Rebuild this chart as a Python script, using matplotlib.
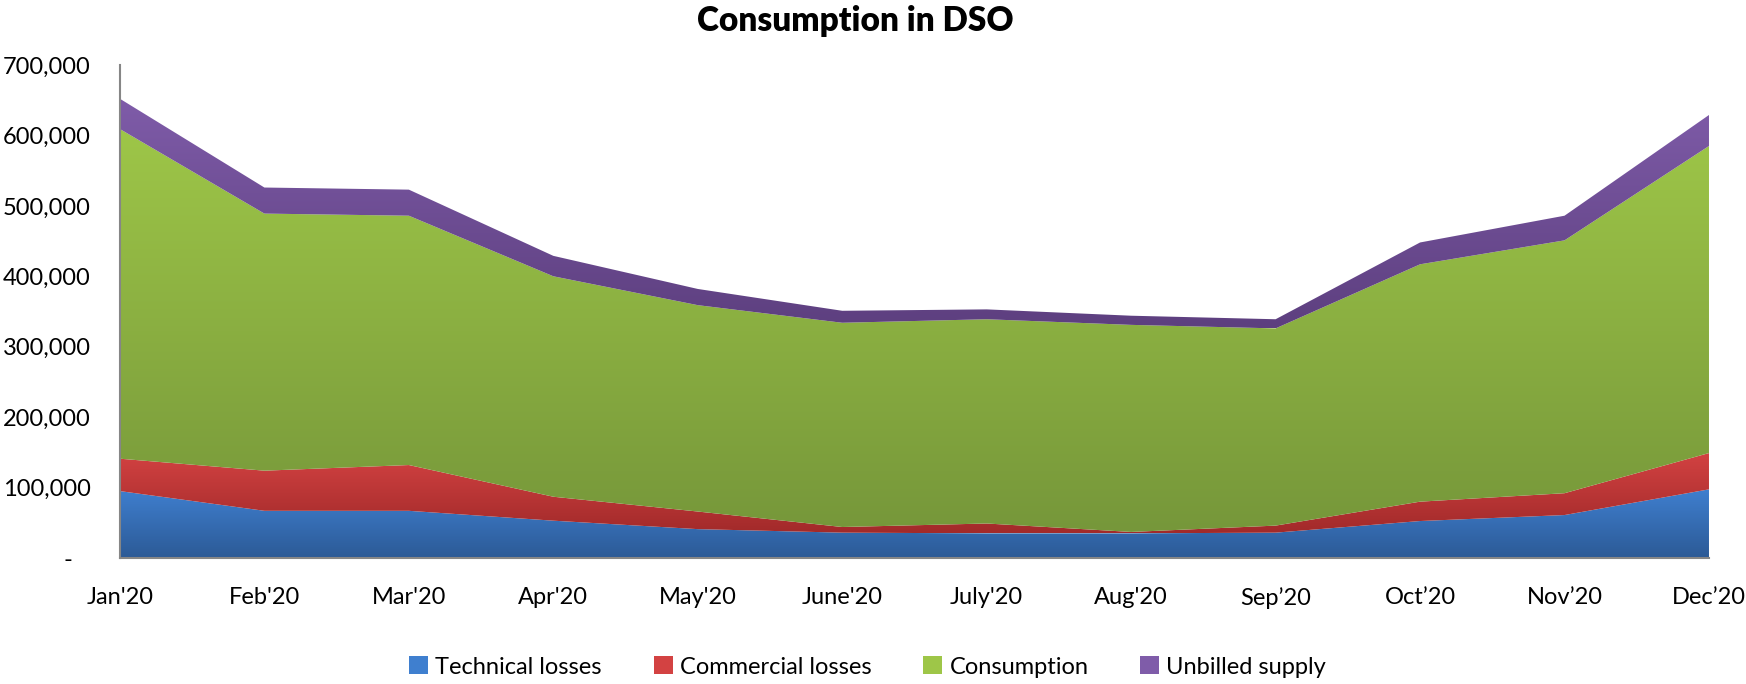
import numpy as np
import matplotlib
matplotlib.use("Agg")
import matplotlib.pyplot as plt
from matplotlib.colors import LinearSegmentedColormap
from matplotlib.patches import Patch
from matplotlib.ticker import FuncFormatter

plt.rcParams['font.family'] = ['Lato', 'DejaVu Sans']

# data (kWh-ish units)
months = ["Jan'20", "Feb'20", "Mar'20", "Apr'20", "May'20", "June'20",
          "July'20", "Aug'20", "Sep\u201920", "Oct\u201920", "Nov\u201920", "Dec\u201920"]
technical = [95000, 67000, 67000, 53000, 41000, 36000, 35000, 35000, 36000, 52500, 61000, 97500]
commercial = [46000, 57000, 65000, 34000, 25000, 8000, 14000, 2000, 10000, 27500, 31000, 51500]
consumption = [468000, 365000, 354000, 313000, 293000, 290000, 290000, 294000, 280000, 337000, 359000, 436000]
unbilled = [43000, 37000, 37000, 29000, 23000, 17000, 14000, 13000, 13000, 31000, 35000, 44000]

series_names = ["Technical losses", "Commercial losses", "Consumption", "Unbilled supply"]
# (top colour, bottom colour) for the excel-like vertical gradients
grad_colors = [("#3f7fcf", "#2c5a96"),
               ("#d34242", "#a22a2a"),
               ("#9ec648", "#76973a"),
               ("#7f5ca9", "#5d3f7f")]

fig = plt.figure(figsize=(17.46, 6.84), dpi=100)
ax = fig.add_axes([0.0687, 0.1842, 0.9101, 0.7208])

x = np.arange(len(months))
lower = np.zeros(len(months))
layers = [technical, commercial, consumption, unbilled]
for vals, (c_top, c_bot) in zip(layers, grad_colors):
    upper = lower + np.array(vals)
    poly = ax.fill_between(x, lower, upper, color='none', lw=0)
    cmap = LinearSegmentedColormap.from_list("g", [c_bot, c_top])
    grad = np.linspace(0, 1, 256).reshape(-1, 1)
    img = ax.imshow(grad, extent=[x[0], x[-1], lower.min(), upper.max()],
                    origin='lower', aspect='auto', cmap=cmap, zorder=1,
                    interpolation='bilinear')
    img.set_clip_path(poly.get_paths()[0], transform=ax.transData)
    lower = upper

ax.set_xlim(0, len(months) - 1)
ax.set_ylim(0, 700000)
ax.set_yticks(np.arange(0, 700001, 100000))
ax.yaxis.set_major_formatter(FuncFormatter(lambda v, p: "-   " if v == 0 else f"{int(v):,}"))
ax.set_xticks(x)
ax.set_xticklabels(months)
ax.tick_params(axis='y', length=0, pad=21, labelsize=17)
ax.tick_params(axis='x', length=0, pad=21, labelsize=17)

for s in ['top', 'right']:
    ax.spines[s].set_visible(False)
for s in ['left', 'bottom']:
    ax.spines[s].set_color('#868686')
    ax.spines[s].set_linewidth(1.5)
    ax.spines[s].set_zorder(3)

fig.text(0.490, 0.992, "Consumption in DSO", ha='center', va='top',
         fontsize=24, fontweight='heavy')

handles = [Patch(facecolor=c[0], edgecolor='none') for c in grad_colors]
fig.legend(handles, series_names, loc='center', bbox_to_anchor=(0.497, 0.025),
           ncol=4, frameon=False, fontsize=17, handlelength=0.8, handleheight=0.8,
           handletextpad=0.3, columnspacing=2.2)

fig.savefig("out.png", dpi=100)
